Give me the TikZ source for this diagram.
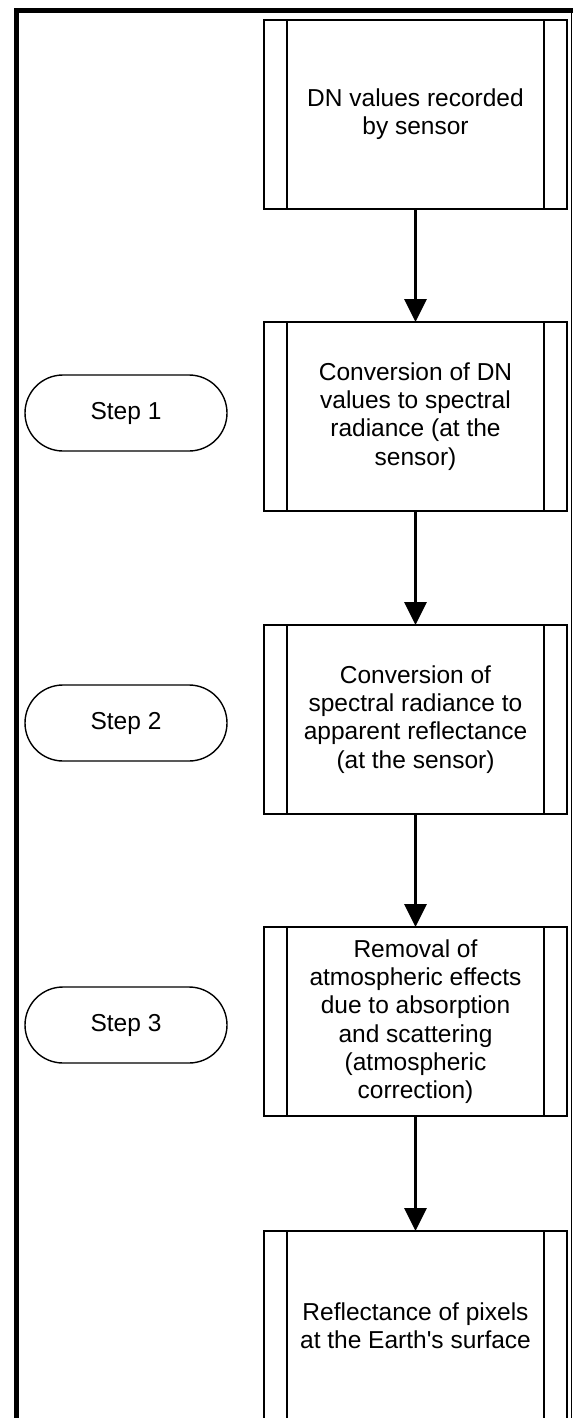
\documentclass[tikz,border=0pt]{standalone}
\usepackage{fontspec}
\setmainfont{Liberation Sans}
\usetikzlibrary{arrows.meta}
\tikzset{
  procbox/.style={draw, line width=1.4pt, outer sep=0pt, inner sep=0pt,
    minimum width=303pt, minimum height=189pt, align=center,
    font=\fontsize{24.5}{28.3}\selectfont},
  sideline/.style={line width=1.4pt},
  stepoval/.style={draw, line width=1.4pt, rounded corners=38pt, outer sep=0pt,
    minimum width=202pt, minimum height=76pt, align=center,
    font=\fontsize{24.5}{28.3}\selectfont},
  flow/.style={line width=3pt, -{Triangle[width=22pt,length=23pt]}},
  frame/.style={line width=5pt, line join=miter}
}
\begin{document}
\begin{tikzpicture}[x=1pt,y=-1pt]
\useasboundingbox (0,0) rectangle (574,1418);
% outer frame
\draw[frame] (16.5,1420) -- (16.5,10.5) -- (573,10.5);
\draw[line width=1.4pt] (571.5,10.5) -- (571.5,1420);
% process boxes
\node[procbox] (b1) at (415.5,114.5) {DN values recorded\\by sensor};
\node[procbox] (b2) at (415.5,416.5) {Conversion of DN\\values to spectral\\radiance (at the\\sensor)};
\node[procbox] (b3) at (415.5,719.5) {Conversion of\\spectral radiance to\\apparent reflectance\\(at the sensor)};
\node[procbox] (b4) at (415.5,1021.5) {Removal of\\atmospheric effects\\due to absorption\\and scattering\\(atmospheric\\correction)};
\node[procbox] (b5) at (415.5,1325.5) {Reflectance of pixels\\at the Earth\textquotesingle s surface};
\foreach \b in {b1,b2,b3,b4,b5}{
  \draw[sideline] ([xshift=23pt]\b.north west) -- ([xshift=23pt]\b.south west);
  \draw[sideline] ([xshift=-23pt]\b.north east) -- ([xshift=-23pt]\b.south east);
}
% step labels
\node[stepoval] (s1) at (126,413) {Step 1};
\node[stepoval] (s2) at (126,723) {Step 2};
\node[stepoval] (s3) at (126,1025) {Step 3};
% connectors
\draw[flow] (b1.south) -- (b2.north);
\draw[flow] (b2.south) -- (b3.north);
\draw[flow] (b3.south) -- (b4.north);
\draw[flow] (b4.south) -- (b5.north);
\end{tikzpicture}
\end{document}
